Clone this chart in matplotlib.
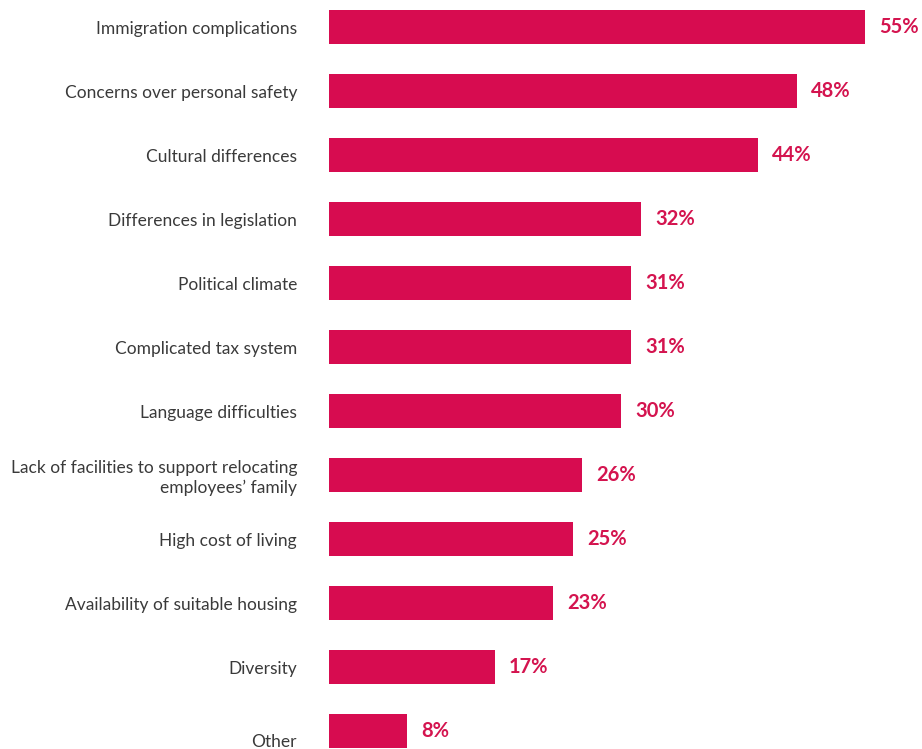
import matplotlib
matplotlib.use("Agg")
import matplotlib.pyplot as plt
import matplotlib.transforms as mtransforms

categories = [
    "Immigration complications",
    "Concerns over personal safety",
    "Cultural differences",
    "Differences in legislation",
    "Political climate",
    "Complicated tax system",
    "Language difficulties",
    "Lack of facilities to support relocating\nemployees\u2019 family",
    "High cost of living",
    "Availability of suitable housing",
    "Diversity",
    "Other",
]
values = [55, 48, 44, 32, 31, 31, 30, 26, 25, 23, 17, 8]

bar_color = "#D70C50"
label_color = "#D4144F"

fig = plt.figure(figsize=(9.22, 7.49), dpi=100)
ax = fig.add_axes([329 / 922, 0, 1 - 329 / 922, 1])

pos = list(range(len(categories)))
ax.barh(pos, values, height=0.52, color=bar_color)

for p, v in zip(pos, values):
    ax.text(v + 1.45, p, f"{v}%", va="center", ha="left", fontsize=14.5,
            fontweight="bold", color=label_color, family="Lato")

ax.set_xlim(0, 60.85)
ax.set_ylim(11.281, -0.422)
ax.set_yticks(pos)
ax.set_yticklabels(categories, fontsize=12.5, color="#3a3a3a",
                   family="Lato", linespacing=1.25)
ax.tick_params(axis="y", length=0, pad=23)
ax.set_xticks([])
for s in ax.spines.values():
    s.set_visible(False)

# the last label sits a little below its bar
last = ax.get_yticklabels()[-1]
last.set_transform(last.get_transform() + mtransforms.ScaledTranslation(0, -0.09, fig.dpi_scale_trans))

fig.savefig("out.png", dpi=100)
